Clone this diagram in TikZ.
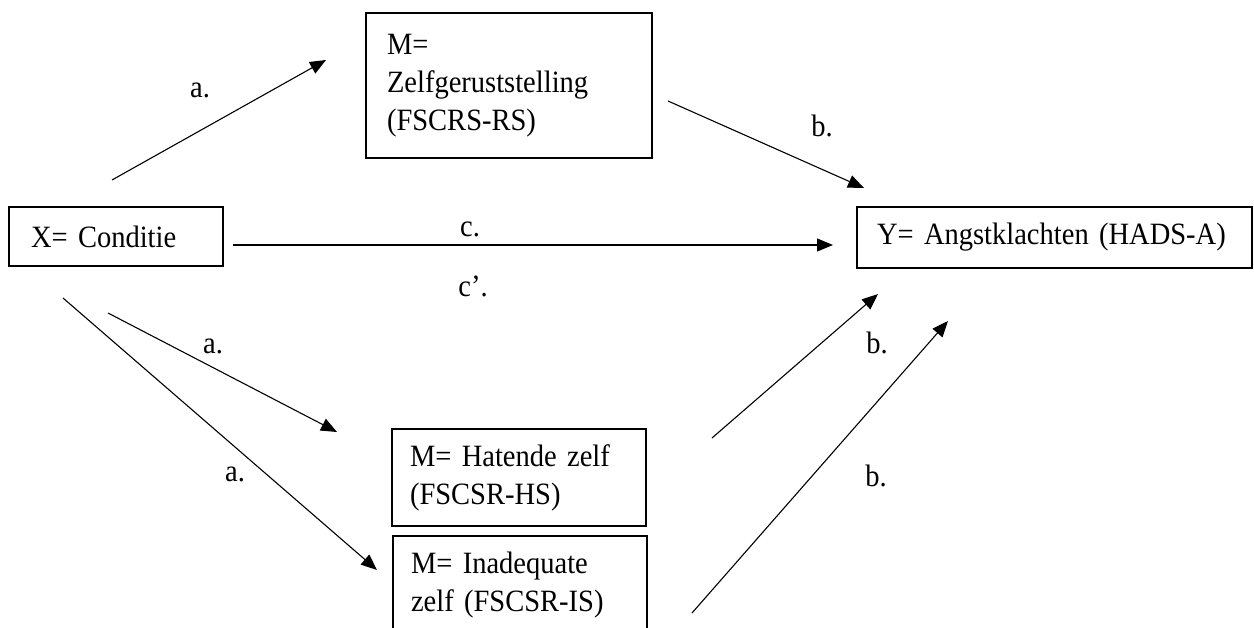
\documentclass[tikz,border=0pt]{standalone}
\usepackage{fontspec}
\setmainfont{Liberation Serif}[FakeStretch=0.92]
\usetikzlibrary{arrows.meta}
\newcommand{\diagfont}{\fontsize{31}{38}\selectfont\spaceskip=0.15em\relax}
\tikzset{
  varbox/.style={draw, line width=2pt, align=left, anchor=center,
    font=\diagfont, inner ysep=0pt},
  lbl/.style={font=\diagfont, inner sep=0pt},
  path arrow/.style={line width=1.1pt, -{Triangle[length=16pt,width=13pt]}}
}
\begin{document}
\begin{tikzpicture}[x=1pt,y=-1pt]
\useasboundingbox (0,0) rectangle (1254,628);
\clip (0,0) rectangle (1254,628);
% boxes
\node[varbox, inner xsep=21pt, text width=244pt, minimum height=145pt] (mrs) at (509,85.5)
  {M=\\Zelfgeruststelling\\(FSCRS-RS)};
\node[varbox, inner xsep=22pt, text width=170pt, minimum height=59pt] (x) at (116,236.5)
  {X= Conditie};
\node[varbox, inner xsep=20pt, text width=355pt, minimum height=61pt] (y) at (1054.5,237.5)
  {Y= Angstklachten (HADS-A)};
\node[varbox, inner xsep=18pt, text width=218pt, minimum height=97pt] (mhs) at (519,477.5)
  {M= Hatende zelf\\(FSCSR-HS)};
\node[varbox, inner xsep=18pt, text width=218pt, minimum height=98pt] (mis) at (520,585)
  {M= Inadequate\\zelf (FSCSR-IS)};
% arrow end points
\coordinate (a1s) at (112,180);
\coordinate (a1e) at (326,60);
\coordinate (b1s) at (668,101);
\coordinate (b1e) at (864,188);
\coordinate (cs) at (233,245);
\coordinate (ce) at (833,245);
\coordinate (a2s) at (108,313);
\coordinate (a2e) at (337,432);
\coordinate (a3s) at (63,298);
\coordinate (a3e) at (377,570);
\coordinate (b2s) at (712,438);
\coordinate (b2e) at (878,294);
\coordinate (b3s) at (692,613);
\coordinate (b3e) at (948,321);
% arrows
\draw[path arrow] (a1s) -- (a1e);
\draw[path arrow] (b1s) -- (b1e);
\draw[path arrow] (cs) -- (ce);
\draw[path arrow] (a2s) -- (a2e);
\draw[path arrow] (a3s) -- (a3e);
\draw[path arrow] (b2s) -- (b2e);
\draw[path arrow] (b3s) -- (b3e);
% labels
\node[lbl] (la1) at (200,90) {a.};
\node[lbl] (lb1) at (822,126) {b.};
\node[lbl] (lc) at (470,229) {c.};
\node[lbl] (lcp) at (473,286) {c’.};
\node[lbl] (la2) at (213,346) {a.};
\node[lbl] (la3) at (235,474) {a.};
\node[lbl] (lb2) at (877,343) {b.};
\node[lbl] (lb3) at (876,476) {b.};
\end{tikzpicture}
\end{document}
